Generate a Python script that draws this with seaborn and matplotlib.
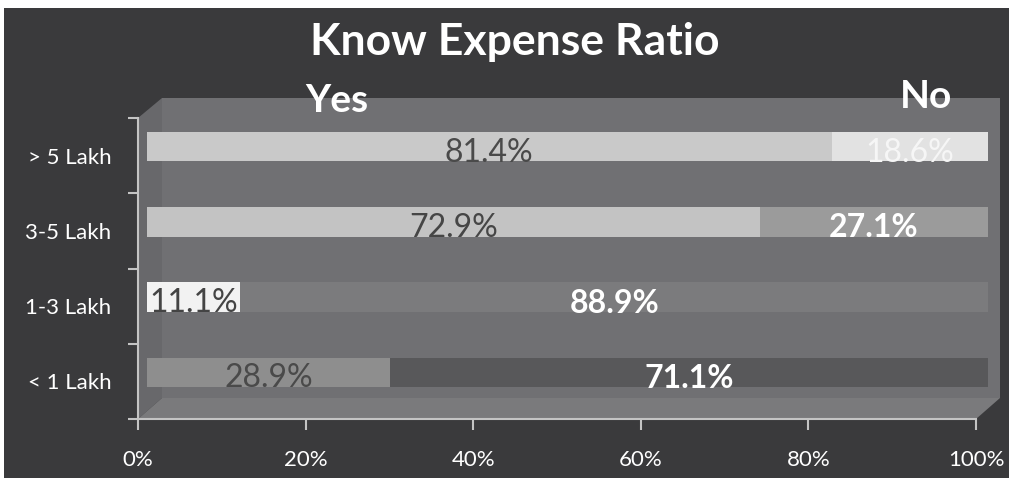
import matplotlib
matplotlib.use("Agg")
import matplotlib.pyplot as plt
from matplotlib.patches import Polygon, Rectangle
import seaborn as sns
import pandas as pd

# ---- data ----
categories = ["> 5 Lakh", "3-5 Lakh", "1-3 Lakh", "< 1 Lakh"]
yes_values = [81.4, 72.9, 11.1, 28.9]
no_values = [18.6, 27.1, 88.9, 71.1]
x_ticks = [0, 20, 40, 60, 80, 100]
x_tick_labels = ["0%", "20%", "40%", "60%", "80%", "100%"]
title = "Know Expense Ratio"
series_names = ["Yes", "No"]

# ---- styles ----
yes_colors = ["#c9c9c9", "#c3c3c3", "#f2f2f2", "#8e8e8e"]
no_colors = ["#e2e2e2", "#9b9b9b", "#7b7b7d", "#58585a"]
yes_text_colors = ["#4a4a4a", "#464646", "#444444", "#4a4a4a"]
no_text_colors = ["#f6f6f6", "white", "white", "white"]
no_text_weights = ["normal", "bold", "bold", "bold"]

W, H = 1013, 482
FONT = ["Lato", "DejaVu Sans"]
plt.rcParams["font.family"] = FONT


def fx(x):
    return x / W


def fy(y):
    return 1 - y / H


fig = plt.figure(figsize=(W / 100, H / 100), dpi=100)
fig.patch.set_facecolor("white")

# dark background panel
fig.patches.append(Rectangle((fx(4), fy(478)), (1009 - 4) / W, (478 - 8) / H,
                             transform=fig.transFigure, facecolor="#3a3a3c",
                             edgecolor="none", zorder=-3))


def fpoly(pts, color):
    fig.patches.append(Polygon([(fx(a), fy(b)) for a, b in pts], closed=True,
                               transform=fig.transFigure, facecolor=color,
                               edgecolor="none", zorder=-2))


# 3D box: back wall, left side wall, floor
fpoly([(162, 98), (1000, 98), (1000, 398), (162, 398)], "#707073")
fpoly([(138, 118), (162, 98), (162, 398), (138, 419)], "#68686b")
fpoly([(138, 419), (976, 419), (1000, 398), (162, 398)], "#7a7a7c")

# ---- bars axes ----
ax = fig.add_axes([fx(147), fy(410), 841 / W, 301 / H])
ax.set_facecolor("none")

df = pd.DataFrame({"cat": categories, "yes": yes_values, "no": no_values})
df["total"] = df["yes"] + df["no"]

sns.barplot(data=df, x="total", y="cat", hue="cat", palette=no_colors,
            orient="h", width=0.39, dodge=False, legend=False,
            saturation=1, ax=ax, order=categories, hue_order=categories)
sns.barplot(data=df, x="yes", y="cat", hue="cat", palette=yes_colors,
            orient="h", width=0.39, dodge=False, legend=False,
            saturation=1, ax=ax, order=categories, hue_order=categories)
for p in ax.patches:
    p.set_edgecolor("none")

ax.set_xlim(0, 100)
ax.set_ylim(3.5, -0.5)
ax.axis("off")

for i, (y, n) in enumerate(zip(yes_values, no_values)):
    ax.text(y / 2, i + 0.08, f"{y:.1f}%", ha="center", va="center",
            fontsize=23, color=yes_text_colors[i], family=FONT)
    ax.text(y + n / 2, i + 0.08, f"{n:.1f}%", ha="center", va="center",
            fontsize=23, color=no_text_colors[i], fontweight=no_text_weights[i],
            family=FONT)

# ---- axis frame axes ----
ax2 = fig.add_axes([fx(138), fy(419), 838 / W, 301 / H])
ax2.set_facecolor("none")
ax2.set_xlim(0, 100)
ax2.set_ylim(3.5, -0.5)
for s in ["top", "right"]:
    ax2.spines[s].set_visible(False)
for s in ["left", "bottom"]:
    ax2.spines[s].set_color("#c4c4c4")
    ax2.spines[s].set_linewidth(1.5)
ax2.set_xticks(x_ticks)
ax2.set_xticklabels(x_tick_labels)
ax2.set_yticks(range(len(categories)))
ax2.set_yticklabels(categories)
ax2.set_yticks([i - 0.5 for i in range(len(categories) + 1)], minor=True)
ax2.tick_params(axis="y", which="major", length=0, pad=19, labelsize=16,
                labelcolor="white")
ax2.tick_params(axis="y", which="minor", length=7, width=1.5, color="#c4c4c4",
                direction="out")
ax2.tick_params(axis="x", which="major", length=8, width=1.5, color="#c4c4c4",
                direction="out", pad=14, labelsize=16, labelcolor="white")

# ---- titles ----
fig.text(fx(515), fy(42), title, ha="center", va="center", fontsize=32,
         fontweight="bold", color="white", family=FONT)
fig.text(fx(337), fy(101), series_names[0], ha="center", va="center",
         fontsize=28, fontweight="bold", color="white", family=FONT)
fig.text(fx(926), fy(96), series_names[1], ha="center", va="center",
         fontsize=28, fontweight="bold", color="white", family=FONT)

fig.savefig("out.png", dpi=100, facecolor=fig.get_facecolor())
